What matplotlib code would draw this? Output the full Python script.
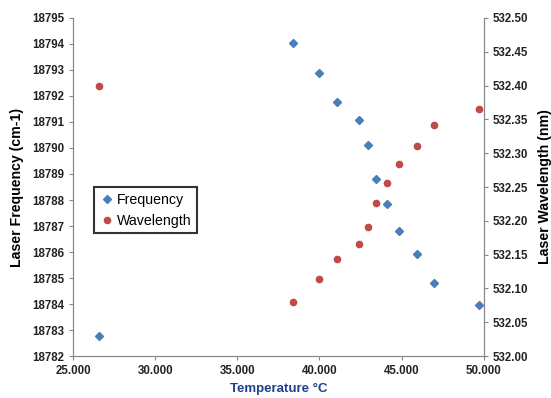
import matplotlib
matplotlib.use("Agg")
import matplotlib.pyplot as plt
from matplotlib.ticker import FormatStrFormatter

plt.rcParams['font.family'] = ['Liberation Sans', 'DejaVu Sans']

# data
temp = [26.58, 38.36, 39.98, 41.06, 42.41, 42.96, 43.47, 44.14, 44.81, 45.92, 46.97, 49.71]
frequency = [18782.77, 18794.05, 18792.87, 18791.77, 18791.08, 18790.12,
             18788.81, 18787.83, 18786.82, 18785.93, 18784.81, 18783.95]
wavelength = [532.399, 532.080, 532.114, 532.144, 532.165, 532.191,
              532.227, 532.256, 532.284, 532.310, 532.342, 532.365]

blue = "#4a7ebb"
red = "#be4b48"
grey = "#868686"

fig = plt.figure(figsize=(5.51, 3.98), dpi=100)
ax = fig.add_axes([0.1325, 0.1055, 0.7455, 0.8493])
ax2 = ax.twinx()

h1, = ax.plot(temp, frequency, "D", color=blue, markersize=4.3, label="Frequency")
h2, = ax2.plot(temp, wavelength, "o", color=red, markersize=4.5, label="Wavelength")

ax.set_xlim(25, 50)
ax.set_ylim(18782, 18795)
ax2.set_ylim(532.0, 532.5)
ax.set_xticks([25, 30, 35, 40, 45, 50])
ax.set_yticks(range(18782, 18796))
ax2.set_yticks([532.0, 532.05, 532.1, 532.15, 532.2, 532.25, 532.3, 532.35, 532.4, 532.45, 532.5])
ax.xaxis.set_major_formatter(FormatStrFormatter("%.3f"))
ax2.yaxis.set_major_formatter(FormatStrFormatter("%.2f"))

for a in (ax, ax2):
    a.spines["top"].set_visible(False)
    for s in ("left", "right", "bottom"):
        a.spines[s].set_color(grey)
    a.tick_params(colors=grey, length=3, width=0.8, labelsize=8.3, labelcolor="#222222")
    for lab in a.get_xticklabels() + a.get_yticklabels():
        lab.set_fontweight("bold")

ax.set_xlabel("Temperature °C", fontsize=9.5, fontweight="bold", color="#1f3f8f", labelpad=4)
ax.set_ylabel("Laser Frequency (cm-1)", fontsize=10.2, fontweight="bold", labelpad=6)
ax2.set_ylabel("Laser Wavelength (nm)", fontsize=10.2, fontweight="bold", labelpad=7)

leg = ax.legend(handles=[h1, h2], loc="upper left", bbox_to_anchor=(0.051, 0.50),
                frameon=True, fancybox=False, fontsize=10.2, handletextpad=0.2,
                handlelength=1.0, borderpad=0.4, labelspacing=0.5, borderaxespad=0)
leg.get_frame().set_edgecolor("black")
leg.get_frame().set_linewidth(1.5)

fig.savefig("out.png", dpi=100)
